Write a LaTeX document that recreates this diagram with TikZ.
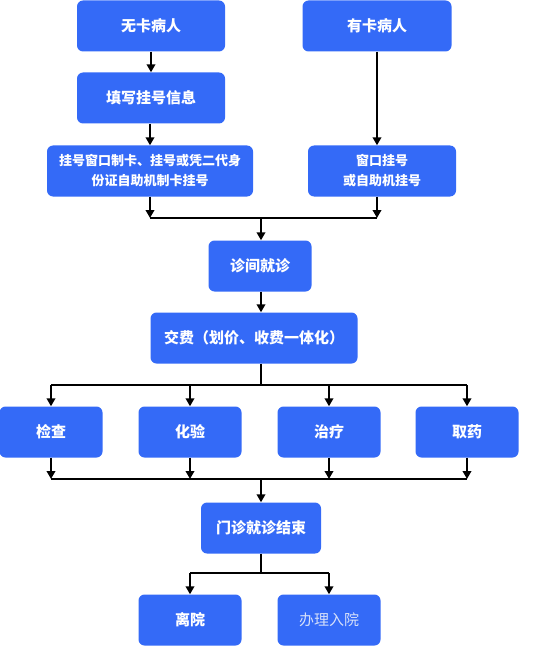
\documentclass[tikz,border=0pt]{standalone}
\usepackage{fontspec}
\newfontfamily\cjk{Noto Sans CJK SC}
\usetikzlibrary{positioning,arrows.meta,calc}
\definecolor{boxblue}{RGB}{52,106,247}
\definecolor{paletext}{RGB}{214,224,250}

\begin{document}
\begin{tikzpicture}[x=1pt,y=-1pt,
  every node/.style={font=\cjk\bfseries\fontsize{15}{18}\selectfont},
  box/.style={fill=boxblue, text=white, rounded corners=6pt, minimum height=51pt, inner sep=2pt, align=center},
  line/.style={line width=2.6pt},
  arr/.style={line width=2.6pt, -{Triangle[width=8.5pt,length=8pt]}}]
\useasboundingbox (0,0) rectangle (543,647);
% registration
\node[box, minimum width=148pt] (nocard) at (151,26) {无卡病人};
\node[box, minimum width=149pt] (hascard) at (377,26) {有卡病人};
\node[box, minimum width=148pt] (fillin) at (151,98) {填写挂号信息};
\node[box, minimum width=206pt, font=\cjk\bfseries\fontsize{13}{20}\selectfont] (makecard) at (150,171) {挂号窗口制卡、挂号或凭二代身\\份证自助机制卡挂号};
\node[box, minimum width=148pt, font=\cjk\bfseries\fontsize{13}{20}\selectfont] (winreg) at (382,171) {窗口挂号\\或自助机挂号};
% visit
\node[box, minimum width=103pt] (consult) at (260,266) {诊间就诊};
\node[box, minimum width=207pt] (pay) at (254,338) {交费（划价、收费一体化）};
\foreach \nm/\cx/\txt in {exam/51/检查, lab/190/化验, treat/329/治疗, drug/467/取药}
  \node[box, minimum width=103pt] (\nm) at (\cx,432) {\txt};
\node[box, minimum width=120pt] (finish) at (261,528) {门诊就诊结束};
\node[box, minimum width=103pt] (leave) at (190,620) {离院};
\node[box, minimum width=103pt, text=paletext, font=\cjk\fontsize{15}{18}\selectfont] (admit) at (329,620) {办理入院};
% junctions
\coordinate (jA) at (261,218);
\coordinate (jB) at (261,385);
\coordinate (jC) at (261,479);
\coordinate (jD) at (261,573);
% arrows
\draw[arr] (nocard) -- (fillin);
\draw[arr] (fillin.south -| makecard.south) -- (makecard);
\draw[arr] (hascard.south) -- (hascard.south |- winreg.north);
\draw[line] (makecard.south |- jA) -- (hascard.south |- jA);
\draw[arr] (makecard.south) -- (makecard.south |- jA);
\draw[arr] (hascard.south |- winreg.south) -- (hascard.south |- jA);
\draw[arr] (jA) -- (jA |- consult.north);
\draw[arr] (jA |- consult.south) -- (jA |- pay.north);
\draw[line] (jA |- pay.south) -- (jB);
\draw[line] (exam.north |- jB) -- (drug.north |- jB);
\foreach \nm in {exam, lab, treat, drug} {
  \draw[arr] (\nm.north |- jB) -- (\nm.north);
  \draw[arr] (\nm.south) -- (\nm.south |- jC);
}
\draw[line] (exam.south |- jC) -- (drug.south |- jC);
\draw[arr] (jC) -- (jC |- finish.north);
\draw[line] (finish.south) -- (jD);
\draw[line] (leave.north |- jD) -- (admit.north |- jD);
\draw[arr] (leave.north |- jD) -- (leave.north);
\draw[arr] (admit.north |- jD) -- (admit.north);
\end{tikzpicture}
\end{document}
